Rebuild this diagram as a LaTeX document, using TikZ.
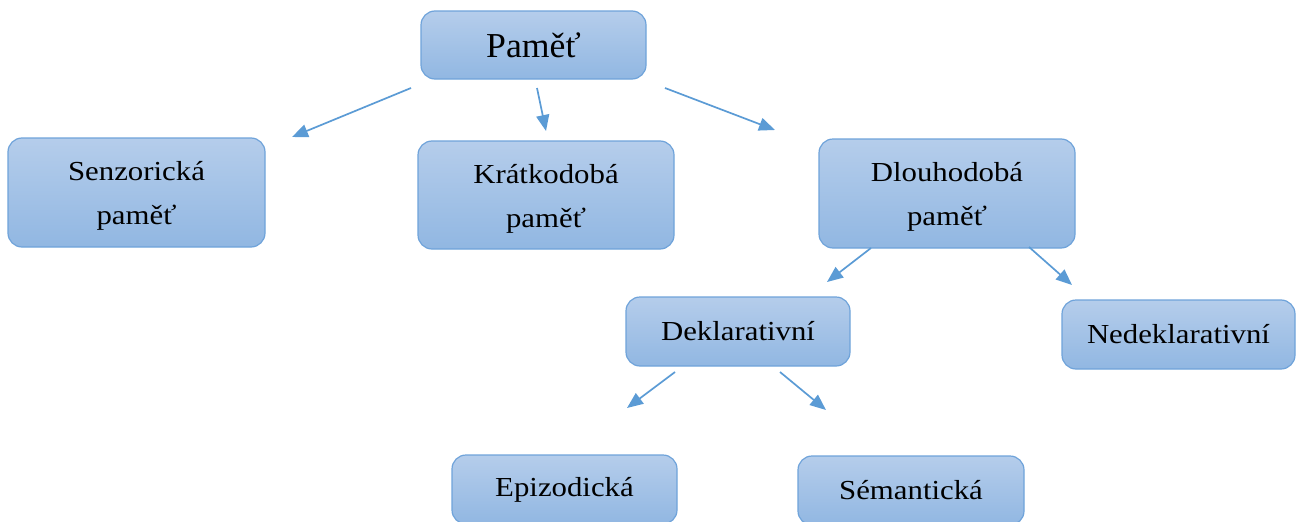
\documentclass[tikz,border=0pt]{standalone}
\usepackage{fontspec}
\setmainfont{Liberation Serif}
\newfontfamily\boxfont[FakeStretch=1.12]{Liberation Serif}
\newfontfamily\topfont[FakeStretch=1.02]{Liberation Serif}
\usetikzlibrary{arrows.meta}
\definecolor{boxtop}{HTML}{B5CDEB}
\definecolor{boxbot}{HTML}{91B7E2}
\definecolor{boxline}{HTML}{6FA3DA}
\definecolor{arrowc}{HTML}{5B9BD5}
\newcommand\mytopstrut{\rule{0pt}{26pt}}
\tikzset{
  box/.style={rectangle, rounded corners=14pt, draw=boxline, line width=1.2pt,
    top color=boxtop, bottom color=boxbot, align=center, inner sep=0pt,
    font=\boxfont\fontsize{27.5}{44}\selectfont},
  conn/.style={draw=arrowc, line width=1.7pt, -{Triangle[length=16pt,width=13pt]}}
}
\begin{document}
\begin{tikzpicture}[x=1pt,y=-1pt]
\useasboundingbox (0,0) rectangle (1296,522);
\node[box, minimum width=225pt, minimum height=68pt, font=\topfont\fontsize{35}{40}\selectfont] (pamet) at (533.5,45) {Paměť};
\node[box, minimum width=257pt, minimum height=109pt] (senz) at (136.5,192.5) {\mytopstrut Senzorická\\paměť};
\node[box, minimum width=256pt, minimum height=108pt] (krat) at (546,195) {\mytopstrut Krátkodobá\\paměť};
\node[box, minimum width=256pt, minimum height=109pt] (dlouh) at (947,193.5) {\mytopstrut Dlouhodobá\\paměť};
\node[box, minimum width=224pt, minimum height=69pt] (dekl) at (738,331.5) {Deklarativní};
\node[box, minimum width=233pt, minimum height=69pt] (nedekl) at (1178.5,334.5) {Nedeklarativní};
\node[box, minimum width=225pt, minimum height=69pt] (epiz) at (564.5,489.5) {Epizodická};
\node[box, minimum width=226pt, minimum height=69pt] (seman) at (911,490.5) {Sémantická};
% arrow end points
\coordinate (s1) at (411,88);  \coordinate (e1) at (292,137);
\coordinate (s2) at (537,88);  \coordinate (e2) at (546,131);
\coordinate (s3) at (665,88);  \coordinate (e3) at (775,130);
\coordinate (s4) at (871,248); \coordinate (e4) at (827,282);
\coordinate (s5) at (1029,247); \coordinate (e5) at (1072,285);
\coordinate (s6) at (675,372); \coordinate (e6) at (627,408);
\coordinate (s7) at (780,372); \coordinate (e7) at (826,410);
\draw[conn] (s1) -- (e1);
\draw[conn] (s2) -- (e2);
\draw[conn] (s3) -- (e3);
\draw[conn] (s4) -- (e4);
\draw[conn] (s5) -- (e5);
\draw[conn] (s6) -- (e6);
\draw[conn] (s7) -- (e7);
\end{tikzpicture}
\end{document}
